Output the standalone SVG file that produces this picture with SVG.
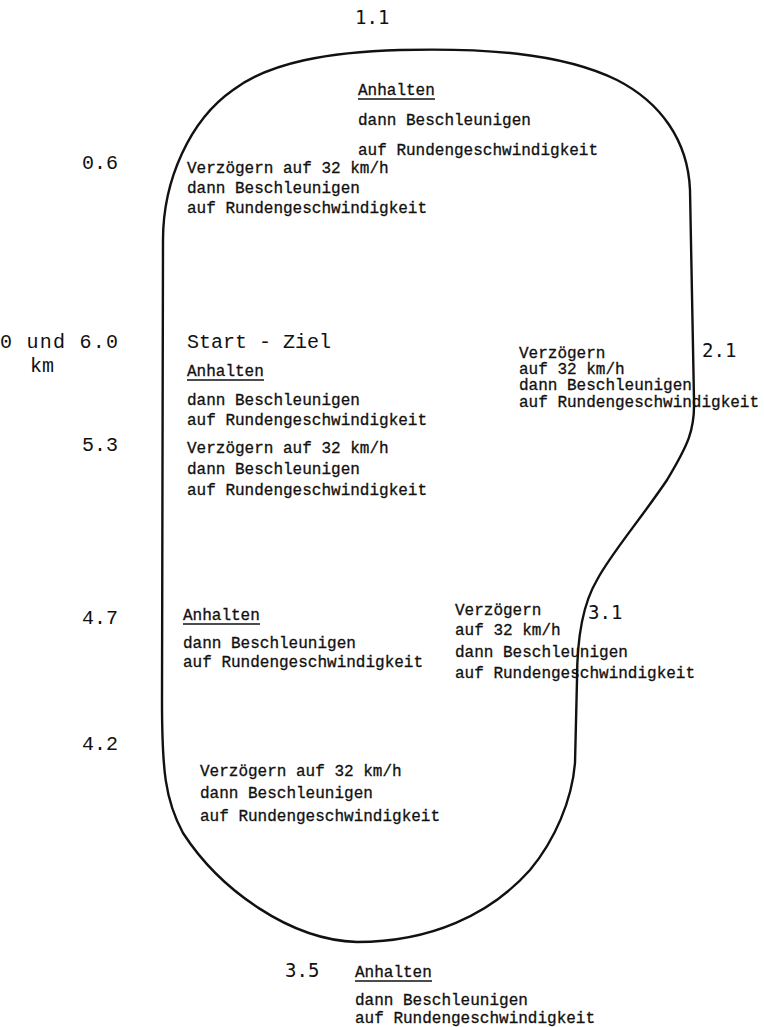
<svg xmlns="http://www.w3.org/2000/svg" width="764" height="1027" viewBox="0 0 764 1027">
<style>
.t{font-family:"Liberation Mono","Courier New",monospace;font-size:16px;fill:#111;stroke:#111;stroke-width:0.3}
.k{font-family:"Liberation Mono","Courier New",monospace;font-size:20px;fill:#111}
.s{font-family:"DejaVu Sans Mono","Liberation Mono",monospace;font-size:19px;fill:#111}
.u{stroke:#111;stroke-width:1.6}
.track{fill:none;stroke:#111;stroke-width:2.4;stroke-linejoin:round}
</style>
<rect width="764" height="1027" fill="#fff"/>
<g id="track">
<path class="track" d="M 400 50 C 480 48, 560 52, 617 80 C 660 102, 688 140, 690 190 L 694 400 C 695 430, 688 445, 667 480 C 640 520, 610 555, 597 580 C 585 600, 577 630, 577 680 L 575 763 C 572 800, 555 840, 530 870 C 490 915, 430 942, 357 942 C 290 940, 220 890, 183 833 C 165 800, 162 770, 162 700 L 163 240 C 163 180, 190 120, 233 90 C 270 62, 330 52, 400 50 Z"/>
</g>
<g id="connectors"></g>
<g id="p11">
<text class="s" x="355" y="24">1.1</text>
<text class="t" x="358" y="95">Anhalten</text>
<line class="u" x1="358" y1="99" x2="435" y2="99"/>
<text class="t" x="358" y="125">dann Beschleunigen</text>
<text class="t" x="358" y="155">auf Rundengeschwindigkeit</text>
</g>
<g id="p06">
<text class="k" x="118" y="169" text-anchor="end">0.6</text>
<text class="t" x="187" y="173">Verzögern auf 32 km/h</text>
<text class="t" x="187" y="193">dann Beschleunigen</text>
<text class="t" x="187" y="213">auf Rundengeschwindigkeit</text>
</g>
<g id="p00">
<text class="k" x="0" y="348" textLength="118">0 und 6.0</text>
<text class="k" x="30" y="372">km</text>
<text class="k" x="187" y="348">Start - Ziel</text>
<text class="t" x="187" y="376">Anhalten</text>
<line class="u" x1="187" y1="380" x2="264" y2="380"/>
<text class="t" x="187" y="405">dann Beschleunigen</text>
<text class="t" x="187" y="425">auf Rundengeschwindigkeit</text>
</g>
<g id="p53">
<text class="k" x="118" y="451" text-anchor="end">5.3</text>
<text class="t" x="187" y="453">Verzögern auf 32 km/h</text>
<text class="t" x="187" y="474">dann Beschleunigen</text>
<text class="t" x="187" y="495">auf Rundengeschwindigkeit</text>
</g>
<g id="p47">
<text class="k" x="118" y="624" text-anchor="end">4.7</text>
<text class="t" x="183" y="620">Anhalten</text>
<line class="u" x1="183" y1="624" x2="260" y2="624"/>
<text class="t" x="183" y="648">dann Beschleunigen</text>
<text class="t" x="183" y="667">auf Rundengeschwindigkeit</text>
</g>
<g id="p42">
<text class="k" x="118" y="750" text-anchor="end">4.2</text>
<text class="t" x="200" y="776">Verzögern auf 32 km/h</text>
<text class="t" x="200" y="798">dann Beschleunigen</text>
<text class="t" x="200" y="821">auf Rundengeschwindigkeit</text>
</g>
<g id="p35">
<text class="s" x="285" y="977">3.5</text>
<text class="t" x="355" y="977">Anhalten</text>
<line class="u" x1="355" y1="981" x2="432" y2="981"/>
<text class="t" x="355" y="1005">dann Beschleunigen</text>
<text class="t" x="355" y="1023">auf Rundengeschwindigkeit</text>
</g>
<g id="p31">
<text class="s" x="588" y="619">3.1</text>
<text class="t" x="455" y="615">Verzögern</text>
<text class="t" x="455" y="635">auf 32 km/h</text>
<text class="t" x="455" y="657">dann Beschleunigen</text>
<text class="t" x="455" y="678">auf Rundengeschwindigkeit</text>
</g>
<g id="p21">
<text class="s" x="702" y="357">2.1</text>
<text class="t" x="519" y="358">Verzögern</text>
<text class="t" x="519" y="374">auf 32 km/h</text>
<text class="t" x="519" y="390">dann Beschleunigen</text>
<text class="t" x="519" y="407">auf Rundengeschwindigkeit</text>
</g>
</svg>
